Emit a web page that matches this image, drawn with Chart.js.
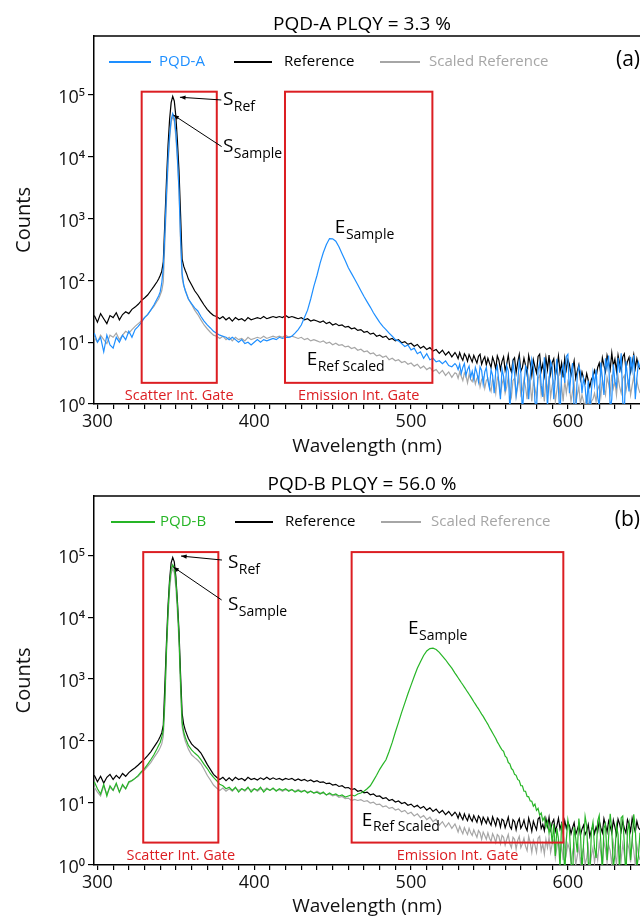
<!DOCTYPE html>
<html>
<head>
<meta charset="utf-8">
<title>PLQY spectra PQD-A / PQD-B</title>
<script src="https://cdn.jsdelivr.net/npm/chart.js"></script>
<style>
  body { margin: 0; background: #fff; }
  canvas { display: block; }
</style>
</head>
<body>
<canvas id="chartA" width="640" height="460"></canvas>
<canvas id="chartB" width="640" height="458"></canvas>
<script>
// wavelength grid in nm (1 nm over the scatter peak and the noisy red tail, 2 nm elsewhere)
var wavelength = [
  298,300,302,304,306,308,310,312,314,316,318,320,322,324,326,328,330,332,334,336,338,
  339,340,341,342,343,344,345,346,347,348,349,350,351,352,353,354,355,356,357,358,
  360,362,364,366,368,370,372,374,376,378,
  380,382,384,386,388,390,392,394,396,398,
  400,402,404,406,408,410,412,414,416,418,
  420,422,424,426,428,430,432,434,436,438,
  440,442,444,446,448,450,452,454,456,458,
  460,462,464,466,468,470,472,474,476,478,
  480,482,484,486,488,490,492,494,496,498,
  500,502,504,506,508,510,512,514,516,518,
  520,522,524,526,528,
  529,530,531,532,533,534,535,536,537,538,
  539,540,541,542,543,544,545,546,547,548,
  549,550,551,552,553,554,555,556,557,558,
  559,560,561,562,563,564,565,566,567,568,
  569,570,571,572,573,574,575,576,577,578,
  579,580,581,582,583,584,585,586,587,588,
  589,590,591,592,593,594,595,596,597,598,
  599,600,601,602,603,604,605,606,607,608,
  609,610,611,612,613,614,615,616,617,618,
  619,620,621,622,623,624,625,626,627,628,
  629,630,631,632,633,634,635,636,637,638,
  639,640,641,642,643,644,645,646
];

// panel (a) counts
var pqdA = [
  14,10,12,7,13,9,8,12,10,13,11,15,12,16,18,21,25,28,33,40,50,
  56,65,90,160,600,2500,9000,22000,40000,50000,42000,25000,10000,3000,500,130,85,68,58,50,
  42,36,32,26,22,19,17,15,14,13,
  12.5,12,11,12,11,10,11,9.5,10,9,
  10,11,10,11,10.5,11,11.5,11,12,11.5,
  12,12,12.5,14,16,19,25,33,50,80,
  120,190,280,380,475,470,430,350,270,210,
  160,130,105,85,68,55,45,37,30,25,
  21,18,16,14,12.5,11,10.5,9.5,8.5,9,
  7.5,8,6.5,7,5.5,6.5,5.2,5.5,4.8,5,
  4.5,5,4.2,4,4.5,
  4.2,3.6,4.4,3.1,3.9,4.5,2.9,3.6,4.1,2.7,
  3.4,2.5,3.9,3.2,2.3,4,3.5,2.1,3.3,3.9,
  2.4,1.8,3.6,2.9,1.5,3.4,4.1,2.2,1.2,3.7,
  2.8,1.6,4.2,3.4,0.8,2.5,4.6,3.1,1.4,2.2,
  4.9,3.3,0.7,1.9,4.1,3.6,1.2,2.7,5.3,4,
  1.1,0.8,3.5,4.6,2,1.3,5.7,3.2,0.9,2.4,
  4.8,3.9,1.2,2.8,5.4,1.7,0.6,3.4,4.3,2.2,
  5.9,6.4,1.5,3.1,4.6,0.8,0.7,2.9,4.1,3.3,
  1.5,2.6,1.9,0.9,2.4,0.7,1.6,3.2,2,3.6,
  1.3,0.9,4.7,2.6,1.4,5.5,3.8,6.1,0.8,1.2,
  4.4,2.3,1.9,5.6,3.2,6.6,1.1,0.7,4.9,2.8,
  1.6,5.8,3.5,6.2,1.2,2.6,4.7,3.9
];
var refA = [
  27,21,29,24,20,27,25,30,23,28,31,29,34,37,41,47,52,58,68,80,95,
  105,120,140,200,900,4000,15000,40000,75000,95000,80000,45000,18000,6000,1200,220,170,145,125,105,
  85,68,58,48,40,34,30,27,26,24,
  26,23,25,22,25,23,24,22,25,23,
  24,25,24,26,24,25,26,25,26,25,
  27,25,26,25,24,25,23,24,22,23,
  22,21,22,20,21,19,20,18.5,19,17.5,
  18,16.5,17,15.5,16,14.5,15,13.5,14,12.5,
  13,12,12.5,11,11.5,10.5,11,9.8,10.2,9.2,
  9.6,8.6,9.2,8,8.6,7.6,8.2,7.2,7.6,6.6,
  7.4,6.2,7,5.8,6.8,
  6.2,5.4,6.8,5.7,5.1,6.5,5.9,4.9,6.3,5.5,
  4.8,6.1,5.3,4.6,5.9,6.4,4.4,5.2,5.8,4.3,
  5.5,4.6,3.9,5.7,4.8,3.7,6,5.1,3.6,4.9,
  5.8,3.5,4.4,6.2,3.9,3.3,5.1,5.6,3.2,4.7,
  6.3,3.4,3.9,5.5,4.2,3,6.1,4.6,2.9,5.2,
  4,3.2,5.9,6.4,3.4,4.4,2.9,5.6,3.6,6.2,
  3.1,4.7,5.4,2.8,3.9,6,3.3,4.6,2.7,5.5,
  3.6,5.2,4.4,2.9,3.7,5,2.6,3.4,4.3,2.5,
  3.3,2.6,2.2,3.1,2.4,1.9,2.5,2.8,3.5,2.7,
  3.9,4.6,3.1,5.6,4.2,3.3,6.1,4.8,3.6,6.7,
  4.1,5.3,3.4,6.2,4.5,3.5,5.8,6.5,3.7,4.9,
  5.7,3.3,4.6,6.3,3.8,5.4,4.1,3.6
];
var scaledA = [
  12,10,13,11,9.5,13,12,14,11,13,15,14,16,18,20,22,25,28,33,38,46,
  50,58,68,95,430,1900,7200,19000,36000,45000,38000,21000,8600,2900,420,110,82,70,60,50,
  41,33,28,23,19,16.5,14.5,13,12.5,11.5,
  12.5,11,12,10.5,12,11,11.5,10.5,12,11,
  11.5,12,11.5,12.5,11.5,12,12.5,12,12.5,12,
  13,12,12.5,12,11.5,12,11,11.5,10.5,11,
  10.5,10,10.5,9.6,10,9.1,9.6,8.9,9.1,8.4,
  8.6,7.9,8.2,7.4,7.7,7,7.2,6.5,6.7,6,
  6.2,5.7,6,5.2,5.5,5,5.2,4.7,4.9,4.4,
  4.6,4.1,4.4,3.8,4.1,3.6,3.9,3.4,3.6,3.1,
  3.5,2.9,3.3,2.7,3.2,
  3.1,2.6,3.3,2.8,2.4,3.2,2.9,2.2,3,2.5,
  2.3,2.9,2.1,2.6,2.8,1.9,2.5,2.7,1.8,2.4,
  2.6,1.9,1.6,2.5,2.2,1.5,2.7,2.3,1.4,2.1,
  2.6,1.5,1.9,2.8,1.7,1.3,2.4,2.6,1.3,1.9,
  2.7,1.4,1.7,2.5,1.9,1.2,2.8,2.1,1.1,2.3,
  1.8,1.3,2.6,2.9,1.4,1.9,1.1,2.5,1.6,2.8,
  1.3,2,2.4,1.1,1.7,2.7,1.3,2,1.1,2.4,
  1.5,2.3,1.9,1.1,1.6,2.2,1,1.4,1.9,1,
  1.4,1.1,0.9,1.3,1,0.8,1.1,1.2,1.5,1.1,
  1.7,2,1.3,2.5,1.8,1.4,2.7,2.1,1.5,3,
  1.8,2.3,1.4,2.8,1.9,1.5,2.6,2.9,1.6,2.2,
  2.5,1.4,2,2.8,1.6,2.4,1.8,1.5
];

// panel (b) counts
var pqdB = [
  22,17,14,20,13,19,16,21,15,20,17,22,23,25,28,32,36,42,50,60,75,
  85,95,115,150,500,3000,12000,35000,60000,70000,62000,40000,16000,5000,900,200,140,115,98,85,
  72,64,58,50,42,36,30,26,23,20,
  19,17,18,16,18,15,17,16,18,15,
  17,16,18,15,17,16,17.5,15.5,17,16,
  17,15.5,16.5,15,16,15,16,14.5,15.5,14.5,
  15,14,15,13.5,14.5,13.5,14,13,13.5,12.5,
  13,13.5,13,14,14.5,15.5,17,19,23,28,
  35,42,50,68,95,140,200,290,410,580,
  800,1100,1500,1900,2400,2850,3100,3150,3000,2700,
  2350,2050,1750,1500,1250,
  1150,1050,960,880,810,740,680,620,570,520,
  475,430,395,360,330,300,272,250,226,205,
  186,165,150,135,122,110,97,88,79,72,
  68,57,54,45,43,36,34,29,28,24,
  23,19,19,15.5,15.5,12.8,12.6,10.8,10.7,8.9,
  9.6,7.6,8.2,6.4,6.9,5.2,5.9,4.1,5,3.3,
  4.4,2.2,4.6,1.4,3.9,2.6,0.9,4.8,3.1,0.7,
  2.5,5.3,3.6,1.2,0.6,4.1,2.7,1.6,5.6,3.4,
  0.8,2.2,6.1,4.3,1.1,0.7,3.5,4.9,1.9,1.3,
  5.1,6.3,2.4,0.8,3.9,4.6,1.2,2.8,6.7,3.7,
  0.9,1.5,4.4,3.1,0.7,5.8,6.2,2.2,0.6,3.6,
  4.8,1.2,2.5,6.6,4,0.9,1.4,3.3
];
var refB = [
  28,22,27,21,26,29,24,28,25,30,27,31,34,37,41,46,51,58,67,80,95,
  105,118,135,180,800,3800,15000,40000,75000,92000,78000,45000,18000,6000,1200,280,185,150,128,110,
  90,80,73,64,52,42,35,29,26,24,
  26,23,25.5,23,26,24,25,23,26,24,
  25,23.5,25.5,24,26,24,25.5,24,25,23.5,
  25,24,25,23,24.5,23,24,22.5,23.5,22,
  23,21.5,22,20.5,21,19.5,20,18.5,19,17.5,
  17.8,16.5,17,15.5,16,14.6,15,13.6,14,12.8,
  13,11.8,12.2,11,11.4,10.4,10.8,9.8,10.2,9.2,
  9.6,8.6,9.2,8.2,8.8,7.7,8.4,7.3,8,6.9,
  7.6,6.5,7.3,6.2,7.1,
  6.6,5.7,6.9,6,5.4,6.7,5.8,5.2,6.5,5.6,
  5.1,6.3,5.5,4.9,6.2,5.7,4.6,5.9,5.3,4.7,
  5.8,4.9,4.4,6,5.1,4.3,5.7,5.3,4.1,5.5,
  5.2,4,4.8,5.9,4.2,3.8,5.4,5,3.7,4.9,
  5.6,3.9,4.4,5.3,4.1,3.6,5.7,4.6,3.5,5.1,
  4.3,3.7,5.5,5.9,3.9,4.5,3.6,5.6,4.2,5.9,
  3.7,4.8,5.4,3.5,4.3,5.7,3.8,4.7,3.4,5.2,
  3.9,4.9,4.3,3.2,4,4.8,3.1,3.7,4.5,3,
  3.8,4.4,3.1,3.5,4.5,2.9,3.6,4.3,3.2,4.1,
  3.4,5.2,4,3.3,5.6,4.4,3.4,5.1,4.2,3.3,
  5.3,4.1,3.1,5.5,4.6,3.5,5,3.9,3.3,5.4,
  4.6,3.5,5.7,4.3,3.4,5.1,4,3.7
];
var scaledB = [
  18,15,13,19,14,18,16,20,15,19,17,21,23,25,27,31,34,39,45,54,64,
  70,79,90,120,400,2500,10000,27000,50000,62000,52000,30000,12000,4000,700,170,124,100,86,74,
  60,54,49,43,35,28,23.5,19.5,17.5,16,
  17.5,15.5,17,15.5,17.5,16,17,15.5,17.5,16,
  17,15.5,17,16,17.5,16,17,16,16.5,15.5,
  16.5,16,16.5,15.5,16.5,15.5,16,15,15.5,14.5,
  15.5,14.5,14.5,13.5,14,13,13.5,12.4,12.8,11.8,
  12,11,11.4,11,11.3,10.6,10.9,10,10.3,9.4,
  9.6,8.7,9,8.2,8.5,7.7,8,7.2,7.6,6.7,
  7.1,6.2,6.7,5.8,6.3,5.4,5.9,5,5.5,4.4,
  5,4.1,4.8,3.9,4.6,
  4,3.4,4.2,3.6,3.2,4,3.5,3.1,3.9,3.3,
  3,3.7,3.2,2.8,3.6,3.3,2.6,3.4,3,2.6,
  3.3,2.7,2.4,3.2,2.8,2.3,3.1,2.9,2.2,3,
  2.8,2.1,2.6,3.1,2.2,1.9,2.8,2.6,1.8,2.5,
  2.9,1.9,2.2,2.7,2,1.7,2.9,2.3,1.6,2.5,
  2.1,1.6,2.7,2.9,1.7,2.2,1.5,2.6,1.9,2.8,
  1.6,2.2,2.5,1.3,1.9,2.6,1.4,2.1,1.2,2.4,
  1.5,2.2,1.8,1.1,1.6,2.1,1,1.4,2,1.1,
  1.5,1.9,1,1.3,2,0.9,1.4,1.9,1.1,1.7,
  1.2,2.3,1.6,1,2.4,1.8,1.1,2.1,1.7,1,
  2.3,1.6,1,2.4,1.9,1.2,2.2,1.5,1,2.3,
  1.8,1.1,2.5,1.7,1,2.1,1.5,1.2
];

var decades = [1, 10, 100, 1000, 10000, 100000];
var superscripts = ['\u2070', '\u00B9', '\u00B2', '\u00B3', '\u2074', '\u2075'];

// integration gates: wavelength range (nm) and counts range of the boxes
var scatterGateA = [328.2, 376.1];
var emissionGateA = [419.6, 513.6];
var gateCountsA = [2.2, 113000];
var scatterGateB = [329.2, 377.1];
var emissionGateB = [462.1, 597.1];
var gateCountsB = [2.3, 112000];

var FONT = '"Open Sans", "DejaVu Sans", sans-serif';
var BLUE = '#1e8fff';
var GREEN = '#26b526';
var GRAY = '#a6a6a6';
var RED = '#dc1e22';

function series(values, color, order, label) {
  if (values.length !== wavelength.length) console.warn(label, values.length);
  return {
    label: label,
    data: wavelength.map(function(w, i) { return { x: w, y: values[i] }; }),
    borderColor: color,
    borderWidth: 1.2,
    pointRadius: 0,
    tension: 0,
    fill: false,
    order: order
  };
}

function arrow(ctx, x1, y1, x2, y2) {
  ctx.beginPath();
  ctx.moveTo(x1, y1);
  ctx.lineTo(x2, y2);
  ctx.stroke();
  var a = Math.atan2(y2 - y1, x2 - x1);
  ctx.beginPath();
  ctx.moveTo(x2, y2);
  ctx.lineTo(x2 - 6 * Math.cos(a - 0.35), y2 - 6 * Math.sin(a - 0.35));
  ctx.lineTo(x2 - 6 * Math.cos(a + 0.35), y2 - 6 * Math.sin(a + 0.35));
  ctx.closePath();
  ctx.fill();
}

function decor(p) {
  return {
    id: 'decor',
    afterDraw: function(chart) {
      var ctx = chart.ctx, xs = chart.scales.x, ys = chart.scales.y, area = chart.chartArea;
      ctx.save();

      // top frame line
      ctx.strokeStyle = '#000';
      ctx.lineWidth = 1.5;
      ctx.beginPath();
      ctx.moveTo(area.left, area.top);
      ctx.lineTo(area.right, area.top);
      ctx.stroke();

      // title
      ctx.fillStyle = '#000';
      ctx.textBaseline = 'middle';
      ctx.textAlign = 'center';
      ctx.font = '19px ' + FONT;
      ctx.fillText(p.title, 362, 25);

      // legend
      ctx.textAlign = 'left';
      ctx.font = '15px ' + FONT;
      p.legend.forEach(function(it) {
        ctx.strokeStyle = it.color;
        ctx.lineWidth = 2.2;
        ctx.beginPath();
        ctx.moveTo(it.x0, 62);
        ctx.lineTo(it.x1, 62);
        ctx.stroke();
        ctx.fillStyle = it.textColor;
        ctx.fillText(it.text, it.tx, 62);
      });
      ctx.fillStyle = '#000';
      ctx.textAlign = 'right';
      ctx.font = '21px ' + FONT;
      ctx.fillText(p.letter, 640, 60);

      // integration gates
      ctx.strokeStyle = RED;
      ctx.lineWidth = 2;
      ctx.fillStyle = RED;
      ctx.textAlign = 'center';
      ctx.font = '14.5px ' + FONT;
      p.gates.forEach(function(g) {
        var x0 = xs.getPixelForValue(g.range[0]), x1 = xs.getPixelForValue(g.range[1]);
        var y0 = ys.getPixelForValue(p.gateCounts[1]), y1 = ys.getPixelForValue(p.gateCounts[0]);
        ctx.strokeRect(x0, y0, x1 - x0, y1 - y0);
        ctx.fillText(g.text, (x0 + x1) / 2, y1 + 13);
      });

      // peak annotations
      ctx.strokeStyle = '#000';
      ctx.fillStyle = '#000';
      ctx.lineWidth = 1;
      p.notes.forEach(function(n) {
        if (n.line) {
          arrow(ctx, xs.getPixelForValue(n.line[0]), ys.getPixelForValue(n.line[1]),
                xs.getPixelForValue(n.line[2]), ys.getPixelForValue(n.line[3]));
        }
        var x = xs.getPixelForValue(n.at[0]), y = ys.getPixelForValue(n.at[1]);
        ctx.textAlign = 'left';
        ctx.font = '19px ' + FONT;
        ctx.fillText(n.main, x, y);
        var w = ctx.measureText(n.main).width;
        ctx.font = '14px ' + FONT;
        ctx.fillText(n.sub, x + w + 0.5, y + 7);
      });

      ctx.restore();
    }
  };
}

function buildChart(id, p) {
  return new Chart(document.getElementById(id), {
    type: 'line',
    data: {
      datasets: [
        series(p.sample, p.color, 1, p.sampleLabel),
        series(p.ref, '#000000', 2, 'Reference'),
        series(p.scaled, GRAY, 3, 'Scaled Reference')
      ]
    },
    options: {
      responsive: false,
      animation: false,
      devicePixelRatio: 1,
      layout: { padding: { top: 36, left: 0, right: 0, bottom: 0 } },
      plugins: { legend: { display: false }, tooltip: { enabled: false } },
      scales: {
        x: {
          type: 'linear',
          min: 297.8,
          max: 646,
          afterFit: function(s) { s.height = p.xAxisHeight; },
          ticks: {
            stepSize: 10,
            includeBounds: false,
            autoSkip: false,
            maxRotation: 0,
            padding: 2,
            color: '#111',
            font: { family: FONT, size: 18 },
            callback: function(v) { return v % 100 === 0 ? String(v) : ''; }
          },
          grid: { drawOnChartArea: false, color: '#000', tickLength: 5, lineWidth: 1.2 },
          border: { color: '#000', width: 1.5 },
          title: {
            display: true,
            text: 'Wavelength (nm)',
            color: '#111',
            font: { family: FONT, size: 19, lineHeight: 1.2 },
            padding: { top: 0, bottom: p.xTitlePad }
          }
        },
        y: {
          type: 'logarithmic',
          min: 1,
          max: 900000,
          afterFit: function(s) { s.width = 94; },
          afterBuildTicks: function(s) {
            s.ticks = decades.map(function(v) { return { value: v }; });
          },
          ticks: {
            color: '#111',
            padding: 3,
            labelOffset: 3,
            font: { family: FONT, size: 18 },
            callback: function(v) {
              return '10' + superscripts[Math.round(Math.log10(v))];
            }
          },
          grid: { drawOnChartArea: false, color: '#000', tickLength: 6, lineWidth: 1.2 },
          border: { color: '#000', width: 1.5 },
          title: {
            display: true,
            text: 'Counts',
            color: '#111',
            font: { family: FONT, size: 20, lineHeight: 1.2 },
            padding: { top: 12, bottom: 0 }
          }
        }
      }
    },
    plugins: [decor(p)]
  });
}

buildChart('chartA', {
  title: 'PQD-A PLQY = 3.3 %',
  letter: '(a)',
  sample: pqdA, ref: refA, scaled: scaledA,
  color: BLUE, sampleLabel: 'PQD-A',
  xAxisHeight: 56, xTitlePad: 1.6,
  legend: [
    { x0: 109, x1: 151, tx: 159, text: 'PQD-A', color: BLUE, textColor: BLUE },
    { x0: 234, x1: 272, tx: 284, text: 'Reference', color: '#000', textColor: '#000' },
    { x0: 380, x1: 420, tx: 429, text: 'Scaled Reference', color: GRAY, textColor: GRAY }
  ],
  gateCounts: gateCountsA,
  gates: [
    { range: scatterGateA, text: 'Scatter Int. Gate' },
    { range: emissionGateA, text: 'Emission Int. Gate' }
  ],
  notes: [
    { main: 'S', sub: 'Ref', at: [380, 83000], line: [379, 83000, 352.6, 91900] },
    { main: 'S', sub: 'Sample', at: [380, 14400], line: [379.2, 14600, 348.4, 47500] },
    { main: 'E', sub: 'Sample', at: [451.4, 705] },
    { main: 'E', sub: 'Ref Scaled', at: [433.4, 5.15] }
  ]
});

buildChart('chartB', {
  title: 'PQD-B PLQY = 56.0 %',
  letter: '(b)',
  sample: pqdB, ref: refB, scaled: scaledB,
  color: GREEN, sampleLabel: 'PQD-B',
  xAxisHeight: 53, xTitlePad: 0,
  legend: [
    { x0: 111, x1: 155, tx: 160, text: 'PQD-B', color: GREEN, textColor: GREEN },
    { x0: 235, x1: 273, tx: 285, text: 'Reference', color: '#000', textColor: '#000' },
    { x0: 381, x1: 421, tx: 431, text: 'Scaled Reference', color: GRAY, textColor: GRAY }
  ],
  gateCounts: gateCountsB,
  gates: [
    { range: scatterGateB, text: 'Scatter Int. Gate' },
    { range: emissionGateB, text: 'Emission Int. Gate' }
  ],
  notes: [
    { main: 'S', sub: 'Ref', at: [383.2, 74600], line: [379.4, 83400, 353.3, 96700] },
    { main: 'S', sub: 'Sample', at: [383.2, 15700], line: [379.2, 18900, 348.4, 64300] },
    { main: 'E', sub: 'Sample', at: [498, 6430] },
    { main: 'E', sub: 'Ref Scaled', at: [468.6, 5.3] }
  ]
});
</script>
</body>
</html>
